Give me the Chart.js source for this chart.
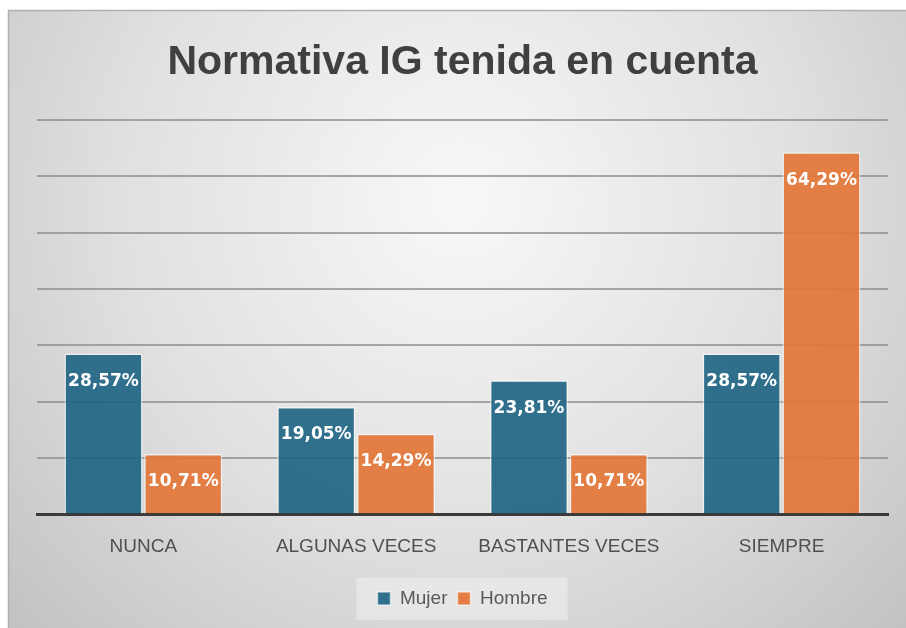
<!DOCTYPE html>
<html>
<head>
<meta charset="utf-8">
<script src="https://cdn.jsdelivr.net/npm/chart.js@4/dist/chart.umd.min.js"></script>
<style>
  html, body { margin: 0; padding: 0; background: #fff; }
  #wrap { width: 906px; height: 628px; }
</style>
</head>
<body>
<div id="wrap"><canvas id="chart" width="906" height="628"></canvas></div>
<script>
var categories = ['NUNCA', 'ALGUNAS VECES', 'BASTANTES VECES', 'SIEMPRE'];
var mujer = [28.57, 19.05, 23.81, 28.57];
var hombre = [10.71, 14.29, 10.71, 64.29];
var seriesNames = ['Mujer', 'Hombre'];
var titleText = 'Normativa IG tenida en cuenta';

// gradient panel behind everything
var bgPlugin = {
  id: 'panelBg',
  beforeDraw: function (chart) {
    var ctx = chart.ctx;
    ctx.save();
    ctx.fillStyle = '#ffffff';
    ctx.fillRect(0, 0, chart.width, chart.height);
    var g = ctx.createRadialGradient(460, 200, 0, 460, 200, 620);
    g.addColorStop(0, '#f8f8f8');
    g.addColorStop(0.55, '#e0e0e0');
    g.addColorStop(1, '#c2c2c2');
    ctx.fillStyle = g;
    ctx.fillRect(8, 10, chart.width - 8, chart.height - 10);
    ctx.strokeStyle = '#b0b0b0';
    ctx.lineWidth = 1.5;
    ctx.beginPath();
    ctx.moveTo(8.5, chart.height);
    ctx.lineTo(8.5, 10.5);
    ctx.lineTo(chart.width, 10.5);
    ctx.stroke();

    // legend box
    var lg = chart.legend;
    if (lg && lg.legendHitBoxes && lg.legendHitBoxes.length) {
      var hb = lg.legendHitBoxes;
      var l = hb[0].left - 21;
      var r = hb[hb.length - 1].left + hb[hb.length - 1].width + 20;
      ctx.fillStyle = 'rgba(240,240,240,0.55)';
      ctx.fillRect(l, lg.top - 1, r - l, lg.bottom - lg.top + 3);
    }
    ctx.restore();
  }
};

// white value labels inside the top of each bar
var valueLabels = {
  id: 'valueLabels',
  afterDatasetsDraw: function (chart) {
    var ctx = chart.ctx;
    ctx.save();
    ctx.font = 'bold 17px "DejaVu Sans"';
    ctx.fillStyle = '#ffffff';
    ctx.textAlign = 'center';
    ctx.textBaseline = 'middle';
    chart.data.datasets.forEach(function (ds, i) {
      var meta = chart.getDatasetMeta(i);
      meta.data.forEach(function (bar, j) {
        var txt = ds.data[j].toFixed(2).replace('.', ',') + '%';
        ctx.fillText(txt, bar.x, bar.y + 28);
      });
    });
    ctx.restore();
  }
};

var ctx = document.getElementById('chart');
var chart = new Chart(ctx, {
  type: 'bar',
  data: {
    labels: categories,
    datasets: [
      {
        label: seriesNames[0],
        data: mujer,
        backgroundColor: 'rgba(28,99,131,0.9)',
        borderColor: 'rgba(255,255,255,0.55)',
        borderWidth: 1.5,
        categoryPercentage: 0.75,
        barPercentage: 0.98
      },
      {
        label: seriesNames[1],
        data: hombre,
        backgroundColor: 'rgba(227,118,55,0.92)',
        borderColor: 'rgba(255,255,255,0.55)',
        borderWidth: 1.5,
        categoryPercentage: 0.75,
        barPercentage: 0.98
      }
    ]
  },
  options: {
    responsive: false,
    animation: false,
    layout: { padding: { top: 38, left: 37, right: 18, bottom: 10 } },
    plugins: {
      title: {
        display: true,
        text: titleText,
        color: '#404040',
        font: { family: '"Liberation Sans"', size: 41, weight: 'bold', lineHeight: 1.2 },
        padding: { top: 0, bottom: 33 }
      },
      legend: {
        display: true,
        position: 'bottom',
        labels: {
          color: '#595959',
          font: { family: '"Liberation Sans"', size: 19 },
          boxWidth: 13,
          boxHeight: 13,
          padding: 10
        }
      },
      tooltip: { enabled: false }
    },
    scales: {
      x: {
        grid: { display: false, drawTicks: false },
        border: { display: true, color: '#3a3a3a', width: 3 },
        ticks: {
          color: '#505050',
          font: { family: '"Liberation Sans"', size: 19 },
          padding: 21,
          autoSkip: false,
          maxRotation: 0
        }
      },
      y: {
        min: 0,
        max: 70,
        ticks: { display: false, stepSize: 10 },
        border: { display: false },
        grid: { color: 'rgba(140,140,140,0.75)', lineWidth: 2, drawTicks: false }
      }
    }
  },
  plugins: [bgPlugin, valueLabels]
});
</script>
</body>
</html>
